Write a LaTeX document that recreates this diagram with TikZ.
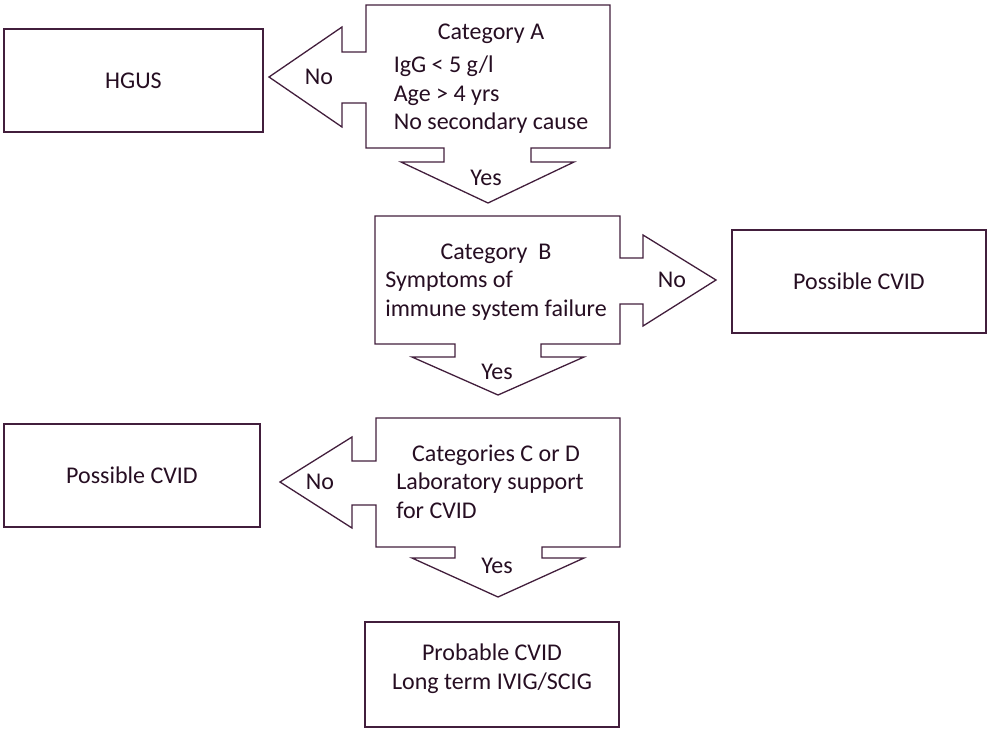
\documentclass[tikz,border=0pt]{standalone}
\usepackage{fontspec}
\setmainfont{Carlito}
\usepackage{tikz}
\usetikzlibrary{positioning,calc}

\definecolor{lineplum}{RGB}{66,30,60}
\definecolor{textplum}{RGB}{38,14,34}

\tikzset{
  txt/.style={font=\fontsize{24}{28.5}\selectfont, text=textplum, inner sep=0pt},
  outcome/.style={txt, draw=lineplum, line width=1.3pt},
  catshape/.style={draw=lineplum, line width=1.3pt, line join=miter},
}

\begin{document}
\begin{tikzpicture}[x=1pt,y=-1pt]
      \useasboundingbox (0,0) rectangle (992,734);

      % category A with its No / Yes arrows
      \draw[catshape] (366,5) -- (610,5) -- (610,148) -- (531,148) -- (531,162)
        -- (574,162) -- (488,203) -- (401,162) -- (444,162) -- (444,148)
        -- (366,148) -- (366,103) -- (342,103) -- (342,127) -- (269,77)
        -- (342,27) -- (342,52) -- (366,52) -- cycle;
      % category B
      \draw[catshape] (375,216) -- (620,216) -- (620,258) -- (643,258) -- (643,235)
        -- (716,280) -- (643,326) -- (643,304) -- (620,304) -- (620,344)
        -- (541,344) -- (541,357) -- (584,357) -- (498,395) -- (412,357)
        -- (455,357) -- (455,344) -- (375,344) -- cycle;
      % categories C or D
      \draw[catshape] (376,418) -- (620,418) -- (620,547) -- (542,547) -- (542,558)
        -- (584,558) -- (498,597) -- (412,558) -- (455,558) -- (455,547)
        -- (376,547) -- (376,505) -- (352,505) -- (352,528) -- (280,482)
        -- (352,437) -- (352,461) -- (376,461) -- cycle;

      \node[txt] (catA) at (491,79) {\begin{tabular}{@{}l@{}}
        \multicolumn{1}{@{}c@{}}{Category A}\\[5pt]
        IgG < 5 g/l\\ Age > 4 yrs\\ No secondary cause\end{tabular}};
      \node[txt] (catB) at (496,282) {\begin{tabular}{@{}l@{}}
        \multicolumn{1}{@{}c@{}}{Category~~B}\\
        Symptoms of\\ immune system failure\end{tabular}};
      \node[txt] (catCD) at (490,484) {\begin{tabular}{@{}l@{}}
        \multicolumn{1}{@{}c@{}}{\hspace{12pt}Categories C or D}\\
        Laboratory support\\ for CVID\end{tabular}};

      \node[txt] (noA) at (319,77) {No};
      \node[txt] (yesA) at (486,178) {Yes};
      \node[txt] (noB) at (672,280) {No};
      \node[txt] (yesB) at (497,372) {Yes};
      \node[txt] (noCD) at (320,482) {No};
      \node[txt] (yesCD) at (497,566) {Yes};

      % outcomes
      \node[outcome, minimum width=259pt, minimum height=103pt] (hgus) at (133.5,80.5) {HGUS};
      \node[outcome, minimum width=254pt, minimum height=103pt] (cvidR) at (859,281.5) {Possible CVID};
      \node[outcome, minimum width=256pt, minimum height=103pt] (cvidL) at (132,475.5) {Possible CVID};
      \node[outcome, minimum width=254pt, minimum height=105pt, align=center, text depth=16pt] (probable) at (492,674.5)
        {Probable CVID\\ Long term IVIG/SCIG};
\end{tikzpicture}
\end{document}
